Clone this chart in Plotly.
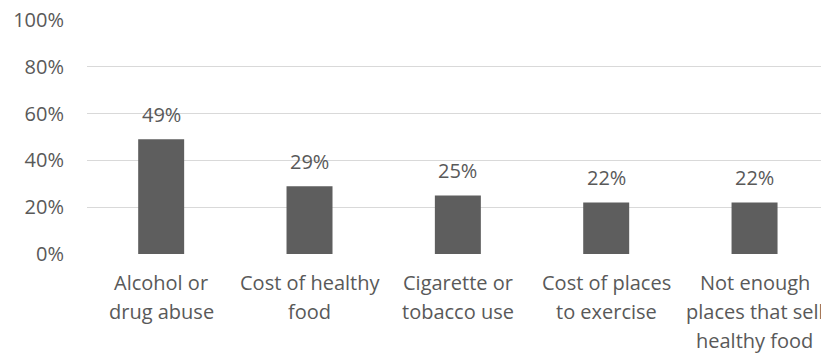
import plotly.graph_objects as go

# Survey results: share of respondents naming each issue
category_lines = [
    ["Alcohol or", "drug abuse"],
    ["Cost of healthy", "food"],
    ["Cigarette or", "tobacco use"],
    ["Cost of places", "to exercise"],
    ["Not enough", "places that sell", "healthy food"],
]
values = [0.49, 0.29, 0.25, 0.22, 0.22]
value_labels = ["49%", "29%", "25%", "22%", "22%"]
y_ticks = [0, 0.2, 0.4, 0.6, 0.8, 1.0]
y_tick_labels = ["0%", "20%", "40%", "60%", "80%", "100%"]

TEXT = "#595959"
FONT = "Open Sans"
SIZE = 20

positions = list(range(len(values)))

fig = go.Figure(
    go.Bar(
        x=positions,
        y=values,
        marker=dict(color="#5e5e5e", line=dict(width=0)),
        width=0.31,
        hoverinfo="skip",
    )
)

# value labels above each bar
for i, (v, lab) in enumerate(zip(values, value_labels)):
    fig.add_annotation(
        x=i, y=v, text=lab, showarrow=False, yanchor="middle", yshift=25,
        font=dict(family=FONT, size=SIZE, color=TEXT),
    )

# category labels below the axis, one line at a time for wider line spacing
for i, lines in enumerate(category_lines):
    for k, line in enumerate(lines):
        fig.add_annotation(
            x=i, xref="x", y=0, yref="paper", text=line, showarrow=False,
            yanchor="middle", yshift=-(28 + 29 * k),
            font=dict(family=FONT, size=SIZE, color=TEXT),
        )

fig.update_layout(
    width=821, height=356,
    margin=dict(l=87, r=0, t=20, b=102),
    paper_bgcolor="white", plot_bgcolor="white",
    showlegend=False,
    font=dict(family=FONT, size=SIZE, color=TEXT),
)
fig.update_xaxes(
    range=[-0.5, 4.448], showgrid=False, zeroline=False, showline=False,
    ticks="", showticklabels=False,
)
fig.update_yaxes(
    range=[0, 1], tickmode="array", tickvals=y_ticks, ticktext=y_tick_labels,
    showgrid=True, gridcolor="#d9d9d9", gridwidth=1, zeroline=False,
    showline=False, ticks="", ticklabelstandoff=22,
)

fig.write_html("out.html")
